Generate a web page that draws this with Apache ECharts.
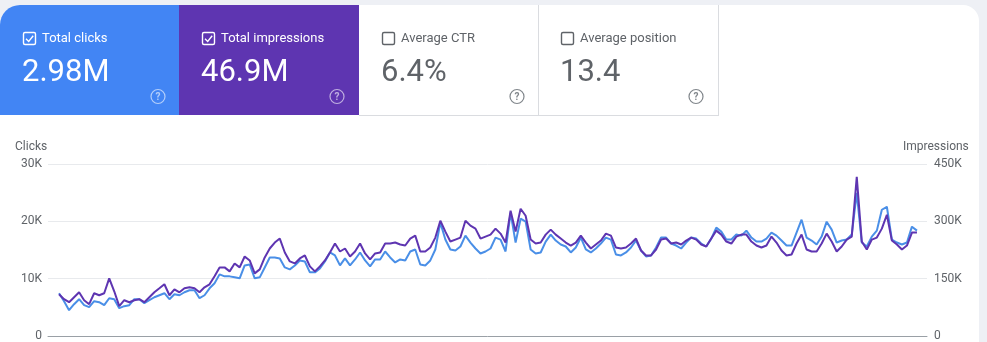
<!DOCTYPE html>
<html><head><meta charset="utf-8">
<script src="https://cdn.jsdelivr.net/npm/echarts@6/dist/echarts.min.js"></script>
<style>html,body{margin:0;padding:0;background:#eef0f5;}#c{width:987px;height:342px;}</style>
</head><body><div id="c"></div>
<script>
// Daily values
const clicks = [7460,6070,4510,5550,6420,5380,5030,6070,5900,5380,6590,6420,4860,5200,5380,6420,6420,5720,6240,6760,
7110,7460,6420,7280,7110,7630,7980,7980,6590,7110,8320,9190,10750,10400,10400,10230,10060,12310,12480,10060,
10230,11960,13700,13700,13530,11960,11620,12310,13180,13000,11100,11100,11790,13000,14570,14050,12310,13530,12310,13350,
14570,13180,12140,13350,13350,14740,13700,12830,13350,13180,14740,15090,12480,12310,13180,15090,19770,16820,15090,14910,
15610,17510,16300,15260,14390,14740,15260,17170,16820,14740,21500,16300,20460,19940,15090,14390,14570,16470,17690,16650,
15950,15610,14570,15430,17170,15090,14570,15260,16130,17170,16820,14220,14050,14570,15430,16650,14910,13870,14050,15430,
17170,17170,16130,15780,15260,16300,17170,16990,16130,15610,16990,18900,18210,16820,16820,17690,17510,18380,17170,16470,
16470,16990,18030,17510,16650,15780,15780,18030,20290,17170,16650,15950,17340,19940,18550,16300,16650,16820,17690,24970,
16300,15610,17340,18380,22020,22540,16820,16300,15950,16300,19070,18380];
const impressions = [109200,96200,88400,101400,114400,93600,83200,111800,106600,111800,150900,117000,78000,93600,88400,93600,96200,88400,101400,114400,
124800,135300,106600,122200,114400,124800,127400,124800,114400,127400,135300,156100,179500,179500,169100,189900,179500,208100,197700,163900,
174300,205500,228900,244500,254900,218500,195100,189900,202900,210700,182100,169100,182100,197700,218500,241900,221100,228900,208100,221100,
241900,215900,200300,215900,218500,241900,241900,244500,239300,236700,254900,262700,221100,221100,231500,257500,301700,273100,247100,252300,
257500,301700,288700,280900,254900,260100,265300,280900,267900,244500,327700,273100,332900,314700,252300,241900,244500,265300,278300,265300,
254900,244500,236700,244500,262700,244500,228900,239300,249700,267900,262700,231500,228900,231500,241900,254900,223700,210700,210700,226300,
252300,254900,241900,244500,239300,249700,257500,252300,239300,234100,254900,275700,265300,247100,241900,260100,265300,265300,247100,236700,
231500,236700,260100,244500,223700,210700,213300,241900,265300,226300,221100,221100,241900,267900,247100,221100,234100,252300,260100,416200,
247100,226300,252300,257500,280900,317300,249700,239300,226300,236700,270500,270500];
const clickTicks = {0:'0',10000:'10K',20000:'20K',30000:'30K'};
const imprTicks = {0:'0',150000:'150K',300000:'300K',450000:'450K'};
const cardLabels = ['Total clicks','Total impressions','Average CTR','Average position'];
const cardValues = ['2.98M','46.9M','6.4%','13.4'];
const cardChecked = [true,true,false,false];

const FONT = 'Roboto, "Noto Sans", sans-serif';
const cardX = [0,179,359,538];
const cardW = [179,180,179,180];
const cardFill = ['#4285f4','#5e35b1','#ffffff','#ffffff'];

const g = [];
g.push({type:'rect', shape:{x:0,y:5,width:979,height:400,r:[20,16,0,0]}, style:{fill:'#ffffff'}, z:0});
cardLabels.forEach((lab,i)=>{
  const x = cardX[i];
  const on = cardChecked[i];
  const fg = on ? '#ffffff' : '#5f6368';
  g.push({type:'rect', shape:{x:x,y:5,width:cardW[i],height:110,r:i===0?[20,0,0,0]:0}, style:{fill:cardFill[i]}, z:1});
  g.push({type:'rect', shape:{x:x+23.5,y:32.5,width:12,height:12,r:1.5}, style:{fill:'none',stroke:on?'#ffffff':'#5f6368',lineWidth:1.4}, z:3});
  if(on){
    g.push({type:'polyline', shape:{points:[[x+26,38.8],[x+28.7,41.4],[x+33.2,35.8]]}, style:{fill:'none',stroke:'#ffffff',lineWidth:1.4}, z:3});
  }
  g.push({type:'text', style:{x:x+42,y:39,text:lab,fill:on?'#ffffff':'#5f6368',font:'13px '+FONT,verticalAlign:'middle'}, z:3});
  g.push({type:'text', style:{x:x+22,y:73,text:cardValues[i],fill:on?'#ffffff':'#5f6368',font:'31px '+FONT,verticalAlign:'middle'}, z:3});
  g.push({type:'circle', shape:{cx:x+158,cy:96.5,r:7}, style:{fill:'none',stroke:on?'rgba(255,255,255,0.6)':'#80868b',lineWidth:1.2}, z:3});
  g.push({type:'text', style:{x:x+158,y:97,text:'?',fill:on?'rgba(255,255,255,0.6)':'#80868b',font:'bold 10px '+FONT,align:'center',verticalAlign:'middle'}, z:3});
});
g.push({type:'line', shape:{x1:359,y1:115.5,x2:719,y2:115.5}, style:{stroke:'#dadce0',lineWidth:1}, z:2});
g.push({type:'line', shape:{x1:538.5,y1:5,x2:538.5,y2:115}, style:{stroke:'#dadce0',lineWidth:1}, z:2});
g.push({type:'line', shape:{x1:718.5,y1:5,x2:718.5,y2:115}, style:{stroke:'#dadce0',lineWidth:1}, z:2});
g.push({type:'text', style:{x:15,y:147,text:'Clicks',fill:'#5f6368',font:'12px '+FONT,verticalAlign:'middle'}, z:3});
g.push({type:'text', style:{x:903,y:147,text:'Impressions',fill:'#5f6368',font:'12px '+FONT,verticalAlign:'middle'}, z:3});

const chart = echarts.init(document.getElementById('c'), null, {renderer:'canvas'});
chart.setOption({
  animation:false,
  backgroundColor:'transparent',
  graphic:g,
  grid:{left:48,right:60,top:164,bottom:5},
  xAxis:{type:'value',min:-2.2,max:173,axisLabel:{show:false},axisTick:{show:false},splitLine:{show:false},
    axisLine:{show:true,lineStyle:{color:'#9aa0a6',width:1}}},
  yAxis:[
    {type:'value',min:0,max:30000,interval:10000,position:'left',
     axisLine:{show:false},axisTick:{show:false},
     splitLine:{lineStyle:{color:'#e8eaed'}},
     axisLabel:{color:'#5f6368',fontSize:12,fontFamily:FONT,margin:6,formatter:v=>clickTicks[v]}},
    {type:'value',min:0,max:450000,interval:150000,position:'right',
     axisLine:{show:false},axisTick:{show:false},splitLine:{show:false},
     axisLabel:{color:'#5f6368',fontSize:12,fontFamily:FONT,margin:7,formatter:v=>imprTicks[v]}}
  ],
  series:[
    {name:'Clicks',type:'line',yAxisIndex:0,showSymbol:false,data:clicks.map((v,i)=>[i,v]),
     lineStyle:{color:'#4a8fe7',width:2},itemStyle:{color:'#4a8fe7'},z:2},
    {name:'Impressions',type:'line',yAxisIndex:1,showSymbol:false,data:impressions.map((v,i)=>[i,v]),
     lineStyle:{color:'#5e35b1',width:2},itemStyle:{color:'#5e35b1'},z:3}
  ]
});
</script></body></html>
